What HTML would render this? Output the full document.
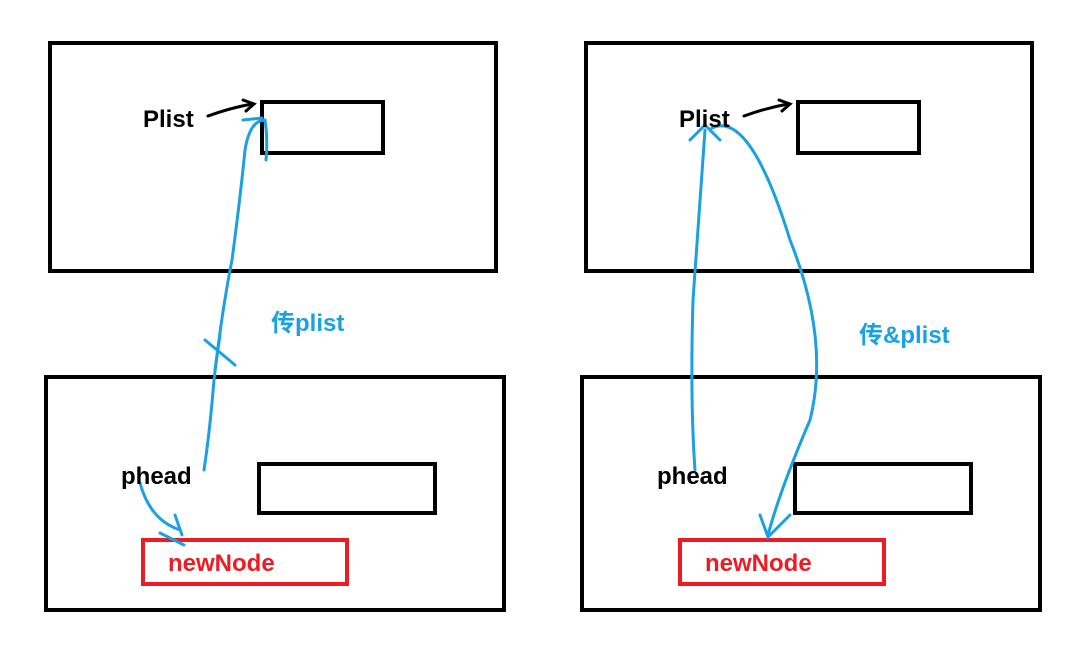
<!DOCTYPE html>
<html><head><meta charset="utf-8"><style>
body{margin:0;background:#fff;width:1071px;height:650px;overflow:hidden}
svg text{font-family:"Liberation Sans","Noto Sans CJK SC",sans-serif;font-weight:bold;font-size:24px}
</style></head><body>
<svg width="1071" height="650" viewBox="0 0 1071 650">
<g fill="none" stroke="#000" stroke-width="4">
<rect x="50" y="43" width="446" height="228"/>
<rect x="586" y="43" width="446" height="228"/>
<rect x="46" y="377" width="458" height="233"/>
<rect x="582" y="377" width="458" height="233"/>
<rect x="262" y="102" width="121" height="51"/>
<rect x="798" y="102" width="121" height="51"/>
<rect x="259" y="464" width="176" height="49"/>
<rect x="795" y="464" width="176" height="49"/>
</g>
<g fill="none" stroke="#ed1c24" stroke-width="4">
<rect x="143" y="540" width="204" height="44"/>
<rect x="680" y="540" width="204" height="44"/>
</g>
<g fill="none" stroke="#000" stroke-width="3" stroke-linecap="round">
<path d="M208 116 Q230 108 252 104"/><path d="M243 100 L254 104 L246 111"/>
<path d="M744 116 Q766 108 788 104"/><path d="M779 100 L790 104 L782 111"/>
</g>
<g fill="none" stroke="#1ba1e2" stroke-width="3" stroke-linecap="round">
<path d="M204 470 Q210 430 214 380 Q222 310 232 260 Q240 200 245 150 Q250 120 265 120 Q268 140 266 160"/>
<path d="M243 120 L262 118"/>
<path d="M205 340 L235 365 M220 335 L215 370"/>
<path d="M140 483 Q150 520 180 530 M175 515 L182 535 M160 533 L184 545"/>
<path d="M695 470 Q690 400 693 300 Q700 200 705 130 M690 140 L705 125 L720 140"/>
<path d="M712 128 Q750 110 790 240 Q830 340 810 420 Q780 490 768 535 M760 515 L768 537 L790 515"/>
</g>
<text x="143" y="127" fill="#000">Plist</text>
<text x="679" y="127" fill="#000">Plist</text>
<text x="121" y="484" fill="#000">phead</text>
<text x="657" y="484" fill="#000">phead</text>
<text x="168" y="571" fill="#ed1c24">newNode</text>
<text x="705" y="571" fill="#ed1c24">newNode</text>
<text x="271" y="331" fill="#1ba1e2">传plist</text>
<text x="859" y="343" fill="#1ba1e2">传&amp;plist</text>
</svg>
</body></html>
